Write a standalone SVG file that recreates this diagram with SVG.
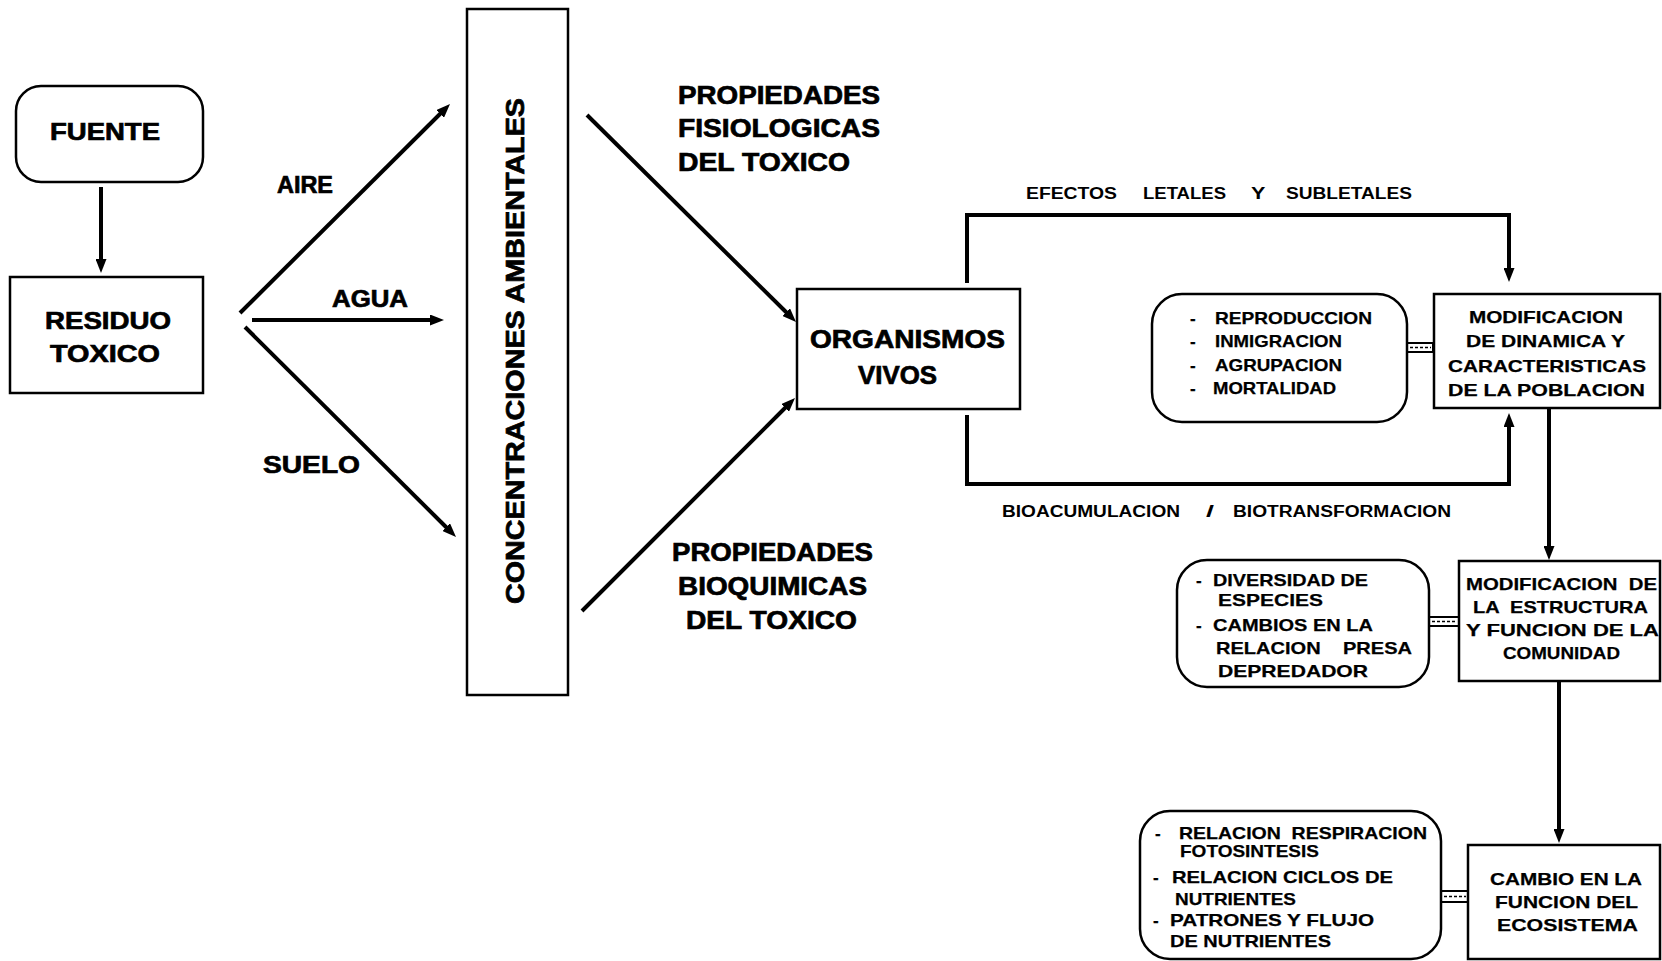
<svg xmlns="http://www.w3.org/2000/svg" width="1662" height="961" viewBox="0 0 1662 961">
  <style>
    .bg { fill: #ffffff; }
    .box { fill: #ffffff; stroke: #000000; stroke-width: 2.5; }
    .ln { fill: none; stroke: #000000; stroke-width: 4; stroke-linecap: butt; stroke-linejoin: miter; }
    .arr { marker-end: url(#head); }
    .link { fill: #ffffff; stroke: #000000; stroke-width: 2; }
    .tick { stroke: #000000; stroke-width: 1.5; stroke-dasharray: 3 2; }
    text { font-family: "Liberation Sans", Arial, Helvetica, sans-serif; font-weight: bold; fill: #000000; }
    .big { font-size: 24px; stroke: #000000; stroke-width: 0.7; }
    .mid { font-size: 25px; stroke: #000000; stroke-width: 0.7; }
    .sm { font-size: 17px; stroke: #000000; stroke-width: 0.25; }
    .xs { font-size: 16px; }
  </style>
  <defs>
    <marker id="head" markerUnits="userSpaceOnUse" markerWidth="14" markerHeight="11" refX="2" refY="5.5" orient="auto">
      <path d="M0,0 L14,5.5 L0,11 Z" fill="#000000"/>
    </marker>
  </defs>

  <rect class="bg" x="0" y="0" width="1662" height="961"/>

  <!-- arrows and loops between the boxes -->
  <g id="connectors">
    <line class="ln arr" x1="101" y1="187" x2="101" y2="261"/>
    <line class="ln arr" x1="240" y1="313" x2="441.5" y2="112.5"/>
    <line class="ln arr" x1="252" y1="320" x2="432" y2="320"/>
    <line class="ln arr" x1="245" y1="327" x2="447.5" y2="528.5"/>
    <line class="ln arr" x1="587" y1="115" x2="787.5" y2="313.5"/>
    <line class="ln arr" x1="582" y1="611" x2="786.5" y2="406.5"/>
    <path class="ln arr" d="M967,283 V215 H1509 V270"/>
    <path class="ln arr" d="M967,415 V484 H1509 V425"/>
    <line class="ln arr" x1="1549" y1="408" x2="1549" y2="548"/>
    <line class="ln arr" x1="1559" y1="681" x2="1559" y2="831"/>

    <!-- short double-line links from the lists to their boxes -->
    <rect class="link" x="1407" y="343" width="26" height="9"/>
    <line class="tick" x1="1410" y1="347.5" x2="1431" y2="347.5"/>
    <rect class="link" x="1429" y="617" width="30" height="9"/>
    <line class="tick" x1="1432" y1="621.5" x2="1457" y2="621.5"/>
    <rect class="link" x="1441" y="891" width="27" height="11"/>
    <line class="tick" x1="1444" y1="896.5" x2="1466" y2="896.5"/>

    <!-- pathway labels -->
    <text class="big" x="277" y="193" textLength="56" lengthAdjust="spacingAndGlyphs">AIRE</text>
    <text class="big" x="332" y="307" textLength="76" lengthAdjust="spacingAndGlyphs">AGUA</text>
    <text class="big" x="263" y="473" textLength="97" lengthAdjust="spacingAndGlyphs">SUELO</text>

    <text class="mid" x="678" y="104" textLength="202" lengthAdjust="spacingAndGlyphs">PROPIEDADES</text>
    <text class="mid" x="678" y="137" textLength="202" lengthAdjust="spacingAndGlyphs">FISIOLOGICAS</text>
    <text class="mid" x="678" y="171" textLength="172" lengthAdjust="spacingAndGlyphs">DEL TOXICO</text>

    <text class="mid" x="672" y="561" textLength="201" lengthAdjust="spacingAndGlyphs">PROPIEDADES</text>
    <text class="mid" x="678" y="595" textLength="189" lengthAdjust="spacingAndGlyphs">BIOQUIMICAS</text>
    <text class="mid" x="686" y="629" textLength="171" lengthAdjust="spacingAndGlyphs">DEL TOXICO</text>

    <text class="xs" y="199">
      <tspan x="1026" textLength="91" lengthAdjust="spacingAndGlyphs">EFECTOS</tspan>
      <tspan x="1143" textLength="83" lengthAdjust="spacingAndGlyphs">LETALES</tspan>
      <tspan x="1251" textLength="14" lengthAdjust="spacingAndGlyphs">Y</tspan>
      <tspan x="1286" textLength="126" lengthAdjust="spacingAndGlyphs">SUBLETALES</tspan>
    </text>
    <text class="xs" y="517">
      <tspan x="1002" textLength="178" lengthAdjust="spacingAndGlyphs">BIOACUMULACION</tspan>
      <tspan x="1206" textLength="8" lengthAdjust="spacingAndGlyphs">/</tspan>
      <tspan x="1233" textLength="218" lengthAdjust="spacingAndGlyphs">BIOTRANSFORMACION</tspan>
    </text>
  </g>

  <g id="fuente">
    <rect class="box" x="16" y="86" width="187" height="96" rx="25" ry="25"/>
    <text class="big" x="50" y="140" textLength="110" lengthAdjust="spacingAndGlyphs">FUENTE</text>
  </g>

  <g id="residuo">
    <rect class="box" x="10" y="277" width="193" height="116"/>
    <text class="big" x="45" y="329" textLength="126" lengthAdjust="spacingAndGlyphs">RESIDUO</text>
    <text class="big" x="50" y="362" textLength="110" lengthAdjust="spacingAndGlyphs">TOXICO</text>
  </g>

  <g id="concentraciones">
    <rect class="box" x="467" y="9" width="101" height="686"/>
    <text class="mid" transform="translate(524,604) rotate(-90)" x="0" y="0" textLength="506" lengthAdjust="spacingAndGlyphs">CONCENTRACIONES AMBIENTALES</text>
  </g>

  <g id="organismos">
    <rect class="box" x="797" y="289" width="223" height="120"/>
    <text class="mid" x="810" y="348" textLength="195" lengthAdjust="spacingAndGlyphs">ORGANISMOS</text>
    <text class="mid" x="858" y="384" textLength="79" lengthAdjust="spacingAndGlyphs">VIVOS</text>
  </g>

  <g id="factores-poblacion">
    <rect class="box" x="1152" y="294" width="255" height="128" rx="30" ry="30"/>
    <text class="sm" x="1190" y="324">-</text>
    <text class="sm" x="1215" y="324" textLength="157" lengthAdjust="spacingAndGlyphs">REPRODUCCION</text>
    <text class="sm" x="1190" y="347">-</text>
    <text class="sm" x="1215" y="347" textLength="127" lengthAdjust="spacingAndGlyphs">INMIGRACION</text>
    <text class="sm" x="1190" y="371">-</text>
    <text class="sm" x="1215" y="371" textLength="127" lengthAdjust="spacingAndGlyphs">AGRUPACION</text>
    <text class="sm" x="1190" y="394">-</text>
    <text class="sm" x="1213" y="394" textLength="123" lengthAdjust="spacingAndGlyphs">MORTALIDAD</text>
  </g>

  <g id="poblacion">
    <rect class="box" x="1434" y="294" width="226" height="114"/>
    <text class="sm" x="1469" y="323" textLength="154" lengthAdjust="spacingAndGlyphs">MODIFICACION</text>
    <text class="sm" x="1466" y="347" textLength="159" lengthAdjust="spacingAndGlyphs">DE DINAMICA Y</text>
    <text class="sm" x="1448" y="372" textLength="198" lengthAdjust="spacingAndGlyphs">CARACTERISTICAS</text>
    <text class="sm" x="1448" y="396" textLength="197" lengthAdjust="spacingAndGlyphs">DE LA POBLACION</text>
  </g>

  <g id="factores-comunidad">
    <rect class="box" x="1177" y="560" width="252" height="127" rx="30" ry="30"/>
    <text class="sm" x="1196" y="586">-</text>
    <text class="sm" x="1213" y="586" textLength="155" lengthAdjust="spacingAndGlyphs">DIVERSIDAD DE</text>
    <text class="sm" x="1218" y="606" textLength="105" lengthAdjust="spacingAndGlyphs">ESPECIES</text>
    <text class="sm" x="1196" y="631">-</text>
    <text class="sm" x="1213" y="631" textLength="160" lengthAdjust="spacingAndGlyphs">CAMBIOS EN LA</text>
    <text class="sm" x="1216" y="654" xml:space="preserve" textLength="196" lengthAdjust="spacingAndGlyphs">RELACION    PRESA</text>
    <text class="sm" x="1218" y="677" textLength="150" lengthAdjust="spacingAndGlyphs">DEPREDADOR</text>
  </g>

  <g id="comunidad">
    <rect class="box" x="1459" y="561" width="201" height="120"/>
    <text class="sm" x="1466" y="590" xml:space="preserve" textLength="191" lengthAdjust="spacingAndGlyphs">MODIFICACION  DE</text>
    <text class="sm" x="1473" y="613" xml:space="preserve" textLength="175" lengthAdjust="spacingAndGlyphs">LA  ESTRUCTURA</text>
    <text class="sm" x="1466" y="636" textLength="193" lengthAdjust="spacingAndGlyphs">Y FUNCION DE LA</text>
    <text class="sm" x="1503" y="659" textLength="117" lengthAdjust="spacingAndGlyphs">COMUNIDAD</text>
  </g>

  <g id="factores-ecosistema">
    <rect class="box" x="1140" y="811" width="301" height="148" rx="30" ry="30"/>
    <text class="sm" x="1155" y="839">-</text>
    <text class="sm" x="1179" y="839" xml:space="preserve" textLength="248" lengthAdjust="spacingAndGlyphs">RELACION  RESPIRACION</text>
    <text class="sm" x="1180" y="857" textLength="139" lengthAdjust="spacingAndGlyphs">FOTOSINTESIS</text>
    <text class="sm" x="1153" y="883">-</text>
    <text class="sm" x="1172" y="883" textLength="221" lengthAdjust="spacingAndGlyphs">RELACION CICLOS DE</text>
    <text class="sm" x="1175" y="905" textLength="121" lengthAdjust="spacingAndGlyphs">NUTRIENTES</text>
    <text class="sm" x="1153" y="926">-</text>
    <text class="sm" x="1170" y="926" textLength="204" lengthAdjust="spacingAndGlyphs">PATRONES Y FLUJO</text>
    <text class="sm" x="1170" y="947" textLength="161" lengthAdjust="spacingAndGlyphs">DE NUTRIENTES</text>
  </g>

  <g id="ecosistema">
    <rect class="box" x="1468" y="845" width="192" height="114"/>
    <text class="sm" x="1490" y="885" textLength="152" lengthAdjust="spacingAndGlyphs">CAMBIO EN LA</text>
    <text class="sm" x="1495" y="908" textLength="143" lengthAdjust="spacingAndGlyphs">FUNCION DEL</text>
    <text class="sm" x="1497" y="931" textLength="141" lengthAdjust="spacingAndGlyphs">ECOSISTEMA</text>
  </g>
</svg>
